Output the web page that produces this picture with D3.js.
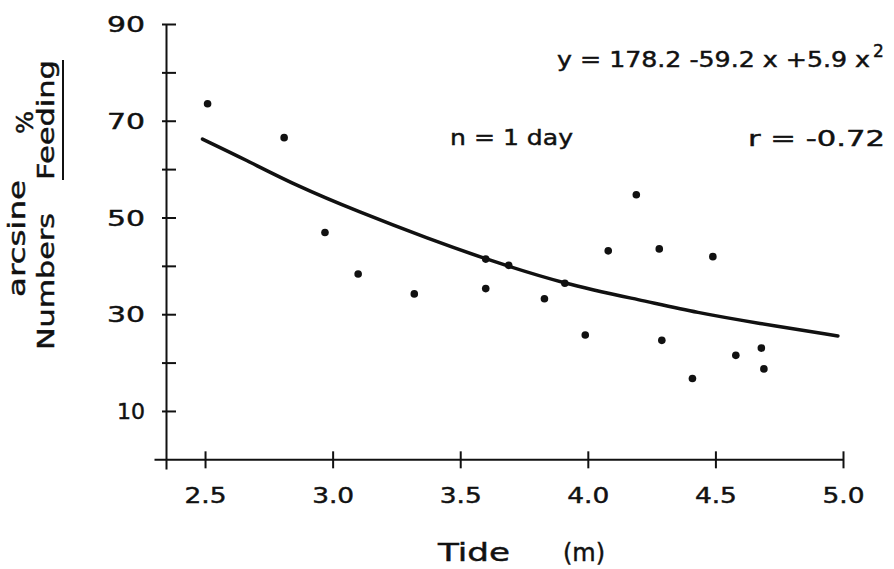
<!DOCTYPE html>
<html>
<head>
<meta charset="utf-8">
<script src="https://cdn.jsdelivr.net/npm/d3@7"></script>
<style>
  body { margin: 0; background: #fff; }
  text { font-family: "DejaVu Sans", sans-serif; fill: #111; stroke: #111; stroke-width: 0.45px; }
</style>
</head>
<body>
<svg></svg>
<script>
// tide (m) vs arcsine % feeding
const tide    = [2.51, 2.81, 2.97, 3.10, 3.32, 3.60, 3.60, 3.69, 3.83, 3.91,
                 3.99, 4.08, 4.19, 4.28, 4.29, 4.41, 4.49, 4.58, 4.68, 4.69];
const feeding = [73.5, 66.5, 46.9, 38.3, 34.2, 41.4, 35.3, 40.1, 33.2, 36.4,
                 25.7, 43.1, 54.7, 43.5, 24.6, 16.7, 41.9, 21.5, 23.0, 18.7];
// fitted curve as drawn
const curveX = [2.49, 2.66, 2.86, 3.10, 3.38, 3.60, 3.91, 4.21, 4.43, 4.66, 4.98];
const curveY = [66.2, 61.9, 56.5, 51.2, 45.5, 41.4, 36.2, 32.9, 30.3, 28.2, 25.5];
const xTicks = [2.5, 3.0, 3.5, 4.0, 4.5, 5.0];
const yTicks = [10, 20, 30, 40, 50, 60, 70, 80, 90];
const yLabelled = [10, 30, 50, 70, 90];

(function (d3) {
  'use strict';
  const width = 894;
  const height = 569;
  const svg = d3.select('svg').attr('width', width).attr('height', height);

  const x = d3.scaleLinear().domain([2.3, 5.0]).range([154, 843]);
  const y = d3.scaleLinear().domain([-2, 90]).range([469, 24]);
  const yAxisX = 166;

  // x axis
  const gx = svg.append('g')
    .attr('transform', 'translate(0,' + y(0) + ')')
    .call(d3.axisBottom(x).tickValues(xTicks).tickSizeOuter(0)
      .tickFormat(d3.format('.1f')));
  gx.select('.domain').attr('stroke', '#111').attr('stroke-width', 2);
  gx.selectAll('.tick line').attr('stroke', '#111').attr('stroke-width', 2)
    .attr('y1', -8).attr('y2', 9);
  gx.selectAll('.tick text')
    .attr('y', 29).attr('dy', '0.71em')
    .style('font-size', '21px')
    .attr('textLength', 42).attr('lengthAdjust', 'spacingAndGlyphs');

  // y axis
  const gy = svg.append('g')
    .attr('transform', 'translate(' + yAxisX + ',0)')
    .call(d3.axisLeft(y).tickValues(yTicks).tickSizeOuter(0)
      .tickFormat(d => yLabelled.includes(d) ? d : ''));
  gy.select('.domain').attr('stroke', '#111').attr('stroke-width', 2);
  gy.selectAll('.tick line').attr('stroke', '#111').attr('stroke-width', 2)
    .attr('x1', 10).attr('x2', -4);
  gy.selectAll('.tick text')
    .attr('x', -21).attr('dy', '0.36em')
    .style('font-size', '21px')
    .attr('textLength', d => d === 10 ? 28 : 38)
    .attr('lengthAdjust', 'spacingAndGlyphs');
  gx.attr('font-family', null).attr('font-size', null);
  gy.attr('font-family', null).attr('font-size', null);

  // fitted curve
  const line = d3.line()
    .x(d => x(d[0]))
    .y(d => y(d[1]))
    .curve(d3.curveBasis);
  svg.append('path')
    .datum(d3.zip(curveX, curveY))
    .attr('d', line)
    .attr('fill', 'none')
    .attr('stroke', '#111')
    .attr('stroke-width', 3.5)
    .attr('stroke-linecap', 'round');

  // points
  svg.append('g').selectAll('circle')
    .data(d3.zip(tide, feeding))
    .enter().append('circle')
      .attr('cx', d => x(d[0]))
      .attr('cy', d => y(d[1]))
      .attr('r', 3.8)
      .attr('fill', '#111');

  // axis titles
  function label(txt, tx, ty, size, len, rot) {
    const t = svg.append('text')
      .attr('transform', 'translate(' + tx + ',' + ty + ')' + (rot ? ' rotate(-90)' : ''))
      .style('font-size', size + 'px')
      .text(txt);
    if (len) t.attr('textLength', len).attr('lengthAdjust', 'spacingAndGlyphs');
    return t;
  }
  label('Tide', 438, 561, 25, 72);
  label('(m)', 563, 561, 24);

  label('arcsine', 25, 297, 23, 117, true);
  label('%', 33, 134, 23, 23, true);
  label('Numbers', 54, 350, 23, 137, true);
  label('Feeding', 54, 180, 23, 120, true);
  svg.append('line')
    .attr('x1', 63).attr('x2', 63).attr('y1', 180).attr('y2', 60)
    .attr('stroke', '#111').attr('stroke-width', 2);

  // annotations
  label('y = 178.2 -59.2 x +5.9 x', 557, 67, 21, 313);
  label('2', 873, 57, 17);
  label('n = 1 day', 450, 145, 22, 123);
  label('r = -0.72', 748, 146, 22, 137);
}(d3));
</script>
</body>
</html>
